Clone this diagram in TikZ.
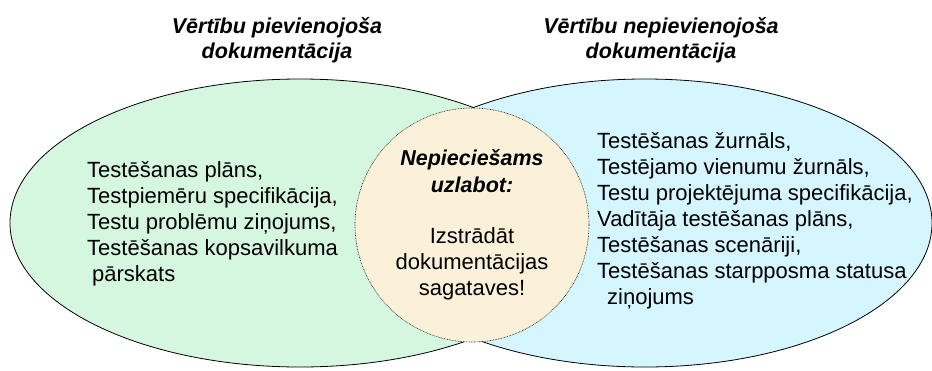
\documentclass[tikz,border=0pt]{standalone}
\usepackage{fontspec}
\setmainfont{Liberation Sans}
\usetikzlibrary{shapes.geometric,positioning}
\definecolor{setgreen}{HTML}{D5F7DF}
\definecolor{setcyan}{HTML}{D5F6FF}
\definecolor{setbeige}{HTML}{FBF1D9}
\tikzset{
    setellipse/.style={ellipse, draw=black, line width=0.8pt, inner sep=0pt, minimum height=288pt},
    settitle/.style={align=center, inner sep=0pt, font=\fontsize{21.5}{25}\selectfont\bfseries\itshape},
    settext/.style={align=left, inner sep=0pt, font=\fontsize{22}{26}\selectfont}
}

\begin{document}
\begin{tikzpicture}[x=1pt,y=-1pt]
        \useasboundingbox (0,0) rectangle (932,370);

        % Value adding documentation
        \node[setellipse, fill=setgreen, minimum width=580pt] (pievien) at (300,223) {};
        \node[settitle] (pievientitle) at (277,40) {Vērtību pievienojoša\\dokumentācija};
        \node[settext, anchor=west] (pieviendocs) at (87,223.5) {Testēšanas plāns,\\Testpiemēru specifikācija,\\Testu problēmu ziņojums,\\Testēšanas kopsavilkuma\\\hspace{5pt}pārskats};

        % Non value adding documentation
        \node[setellipse, fill=setcyan, minimum width=574pt] (nepievien) at (645,223) {};
        \node[settitle] (nepvientitle) at (661,40) {Vērtību nepievienojoša\\dokumentācija};
        \node[settext, anchor=west] (nepviendocs) at (597,220.5) {Testēšanas žurnāls,\\Testējamo vienumu žurnāls,\\Testu projektējuma specifikācija,\\Vadītāja testēšanas plāns,\\Testēšanas scenāriji,\\Testēšanas starpposma statusa\\\hspace{10pt}ziņojums};

        % Needs improving
        \node[circle, draw=black!85, line width=0.6pt, dash pattern=on 0.8pt off 0.8pt, fill=setbeige, minimum size=234pt, inner sep=0pt] (uzlabot) at (472,225) {};
        \node[settitle, font=\fontsize{21.5}{27}\selectfont\bfseries\itshape] (uzlabottitle) at (472,171) {Nepieciešams\\uzlabot:};
        \node[settext, align=center] (uzlabottext) at (472,264) {Izstrādāt\\dokumentācijas\\sagataves!};
\end{tikzpicture}
\end{document}
